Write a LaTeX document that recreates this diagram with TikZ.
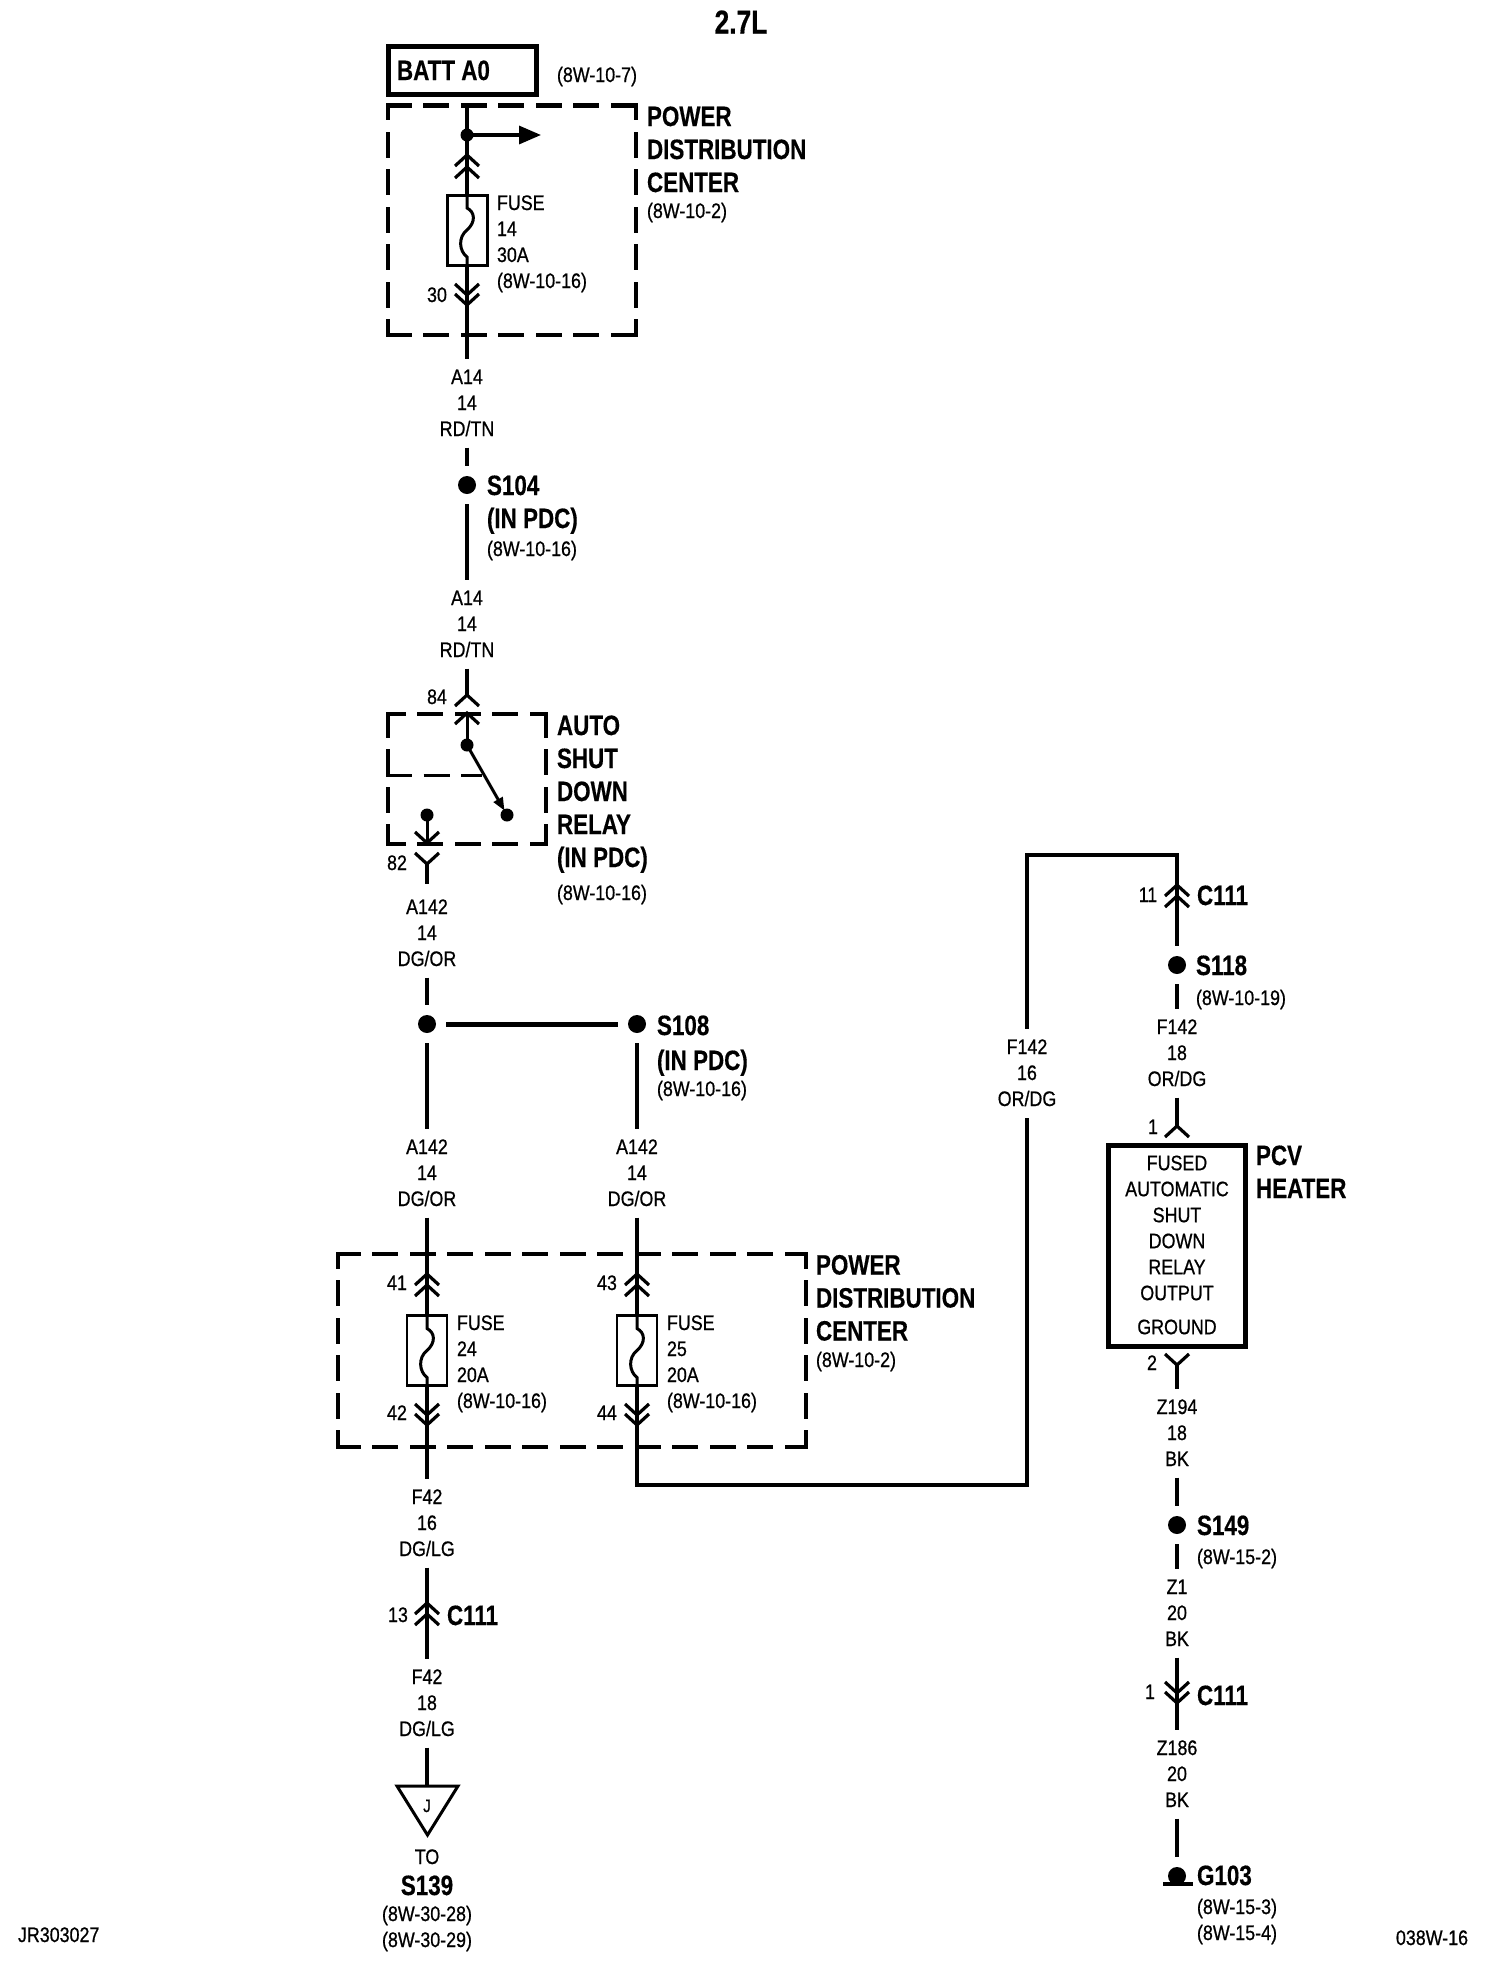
\documentclass[tikz,border=0pt]{standalone}
\usepackage{fontspec}
\usetikzlibrary{arrows.meta}
\newfontfamily\smf[FakeStretch=0.85,FakeBold=0.7]{Liberation Sans}
\newfontfamily\bgf[FakeStretch=0.8,FakeBold=0.4]{Liberation Sans Bold}
\newcommand\fS{\fontsize{21}{26}\selectfont\smf}
\newcommand\fB{\fontsize{28}{33}\selectfont\bgf}
\newcommand\sS{\rule{0pt}{20pt}\rule[-6pt]{0pt}{6pt}}
\newcommand\bS{\rule{0pt}{26.5pt}\rule[-6.5pt]{0pt}{6.5pt}}
\newcommand\wl[6]{\node[wlab] (#1) at (#2,#3+26) {\sS #4\\#5\\#6\sS};}
\newcommand\dashedbox[6]{%
  \draw[dbox,dash phase=#5] (#1,#2) -- (#3,#2);
  \draw[dbox,dash phase=#5] (#1,#4) -- (#3,#4);
  \draw[dbox,dash phase=#6] (#1,#2) -- (#1,#4);
  \draw[dbox,dash phase=#6] (#3,#2) -- (#3,#4);}
\tikzset{
  wire/.style={line width=3.3pt,line cap=butt},
  dbox/.style={line width=4.5pt,dash pattern=on 21.5pt off 16pt,line cap=rect},
  chev/.style={line width=3.2pt,line join=miter},
  wlab/.style={font=\fS,inner sep=0pt,outer sep=0pt,align=center,minimum height=89pt},
  sc/.style={font=\fS,inner sep=0pt,outer sep=0pt,text height=20pt,text depth=6pt},
  sw/.style={sc,anchor=west,xshift=-1pt},
  bw/.style={font=\fB,inner sep=0pt,outer sep=0pt,text height=26.5pt,text depth=6.5pt,anchor=west,xshift=-1pt},
  sblock/.style={font=\fS,inner sep=0pt,outer sep=0pt,align=left,anchor=north west,xshift=-1pt},
  bblock/.style={font=\fB,inner sep=0pt,outer sep=0pt,align=left,anchor=north west,xshift=-1pt},
  bigdot/.style={circle,fill=black,minimum size=18pt,inner sep=0pt,outer sep=10pt},
  smdot/.style={circle,fill=black,minimum size=13pt,inner sep=0pt,outer sep=0pt},
  fusebox/.style={draw,line width=2.8pt,minimum width=40pt,minimum height=70pt,inner sep=0pt},
  thickbox/.style={draw,line width=5pt,inner sep=0pt},
  pics/chup/.style={code={\draw[chev] (-12,11) -- (0,0) -- (12,11);}},
  pics/chdn/.style={code={\draw[chev] (-12,-11) -- (0,0) -- (12,-11);}},
  pics/squig/.style={code={\draw[wire,line width=3pt] (0,0) -- (0,13) .. controls (8,17) and (9,27) .. (0,35) .. controls (-9,42) and (-8,56) .. (0,62) -- (0,71);}},
}
\begin{document}
\begin{tikzpicture}[x=1pt,y=-1pt]
\useasboundingbox (0,0) rectangle (1504,1968);
% ---------- headings and corners
\node[bw,font=\fontsize{33}{36}\selectfont\bgf,anchor=center,xshift=1pt] (title) at (741,23.5) {2.7L};
\node[sw] (jr) at (19,1935) {JR303027};
\node[sc] (ref) at (1432,1938) {038W-16};
% ---------- BATT
\node[thickbox,minimum width=148pt,minimum height=48pt] (batt) at (462,70) {};
\node[bw] (batttext) at (398,70) {BATT A0};
\node[sw] (battref) at (558,75) {(8W-10-7)};
% ---------- top PDC
\dashedbox{388}{105.5}{636}{335}{0}{9}
\node[bblock] (pdcA) at (648,99.5) {\bS POWER\\DISTRIBUTION\\CENTER\bS};
\node[sw] (pdcAref) at (648,211) {(8W-10-2)};
\coordinate (topA) at (467,105.5);
\node[smdot] (junA) at (467,135) {};
\coordinate (arrA) at (541,135);
\node[fusebox] (fuse14) at (467.5,230.5) {};
\node[sblock] (fuse14t) at (498,190) {\sS FUSE\\14\\30A\\(8W-10-16)\sS};
\node[sc] (p30) at (437,295) {30};
\wl{a14a}{467}{377}{A14}{14}{RD/TN}
\draw[wire] (topA) -- (junA.center) -- (467,195);
\draw[wire,-{Triangle[length=22pt,width=18pt]}] (junA.center) -- (arrA);
\pic at (467,155) {chup};
\pic at (467,167) {chup};
\pic at (467,195) {squig};
\draw[wire] (467,266) -- (a14a.north);
\pic at (467,295) {chdn};
\pic at (467,305) {chdn};
% ---------- S104
\node[bigdot] (s104) at (467,485) {};
\node[bw] (s104t) at (488,485) {S104};
\node[bw] (s104p) at (488,518) {(IN PDC)};
\node[sw] (s104r) at (488,549) {(8W-10-16)};
\wl{a14b}{467}{598}{A14}{14}{RD/TN}
\draw[wire] (a14a.south) -- (s104.north);
\draw[wire] (s104.south) -- (a14b.north);
% ---------- relay
\dashedbox{388}{714}{546}{844}{6}{0}
\draw[line width=3pt,dash pattern=on 26pt off 11.5pt] (386,775) -- (482,775);
\coordinate (c84) at (467,695);
\coordinate (c84b) at (467,713);
\draw[wire] (a14b.south) -- (c84);
\pic at (c84) {chup};
\pic at (c84b) {chup};
\node[sc] (p84) at (437,697) {84};
\node[smdot] (relA) at (467,745) {};
\node[smdot] (relB) at (507,815) {};
\node[smdot] (relC) at (427,815) {};
\draw[wire,line width=3pt] (c84b) -- (relA.center);
\draw[wire,line width=3pt,shorten >=5pt,-{Triangle[length=13pt,width=10pt]}] (relA.center) -- (relB.center);
\coordinate (c82a) at (427,843);
\coordinate (c82b) at (427,864);
\draw[wire,line width=3pt] (relC.center) -- (c82a);
\pic at (c82a) {chdn};
\pic at (c82b) {chdn};
\node[sc] (p82) at (397,863) {82};
\node[bblock] (relt) at (558,708.5) {\bS AUTO\\SHUT\\DOWN\\RELAY\\(IN PDC)\bS};
\node[sw] (relr) at (558,893) {(8W-10-16)};
\wl{a142a}{427}{907}{A142}{14}{DG/OR}
\draw[wire,shorten >=5pt] (c82b) -- (a142a.north);
% ---------- S108
\node[bigdot] (j108) at (427,1024) {};
\node[bigdot] (s108) at (637,1024) {};
\draw[wire,line width=5pt] (j108.east) -- (s108.west);
\node[bw] (s108t) at (658,1025) {S108};
\node[bw] (s108p) at (658,1060) {(IN PDC)};
\node[sw] (s108r) at (658,1089) {(8W-10-16)};
\wl{a142b}{427}{1147}{A142}{14}{DG/OR}
\wl{a142c}{637}{1147}{A142}{14}{DG/OR}
\draw[wire] (a142a.south) -- (j108.north);
\draw[wire] (j108.south) -- (a142b.north);
\draw[wire] (s108.south) -- (a142c.north);
% ---------- lower PDC
\dashedbox{338}{1254}{806}{1447}{1}{9}
\node[bblock] (pdcB) at (817,1248) {\bS POWER\\DISTRIBUTION\\CENTER\bS};
\node[sw] (pdcBr) at (817,1360) {(8W-10-2)};
\node[fusebox] (fuse24) at (427,1350.5) {};
\node[fusebox] (fuse25) at (637,1350.5) {};
\node[sblock] (fuse24t) at (458,1310) {\sS FUSE\\24\\20A\\(8W-10-16)\sS};
\node[sblock] (fuse25t) at (668,1310) {\sS FUSE\\25\\20A\\(8W-10-16)\sS};
\node[sc] (p41) at (397,1283) {41};
\node[sc] (p42) at (397,1413) {42};
\node[sc] (p43) at (607,1283) {43};
\node[sc] (p44) at (607,1413) {44};
\draw[wire] (a142b.south) -- (fuse24.north);
\draw[wire] (a142c.south) -- (fuse25.north);
\pic at (427,1315.5) {squig};
\pic at (637,1315.5) {squig};
\pic at (427,1274) {chup};
\pic at (427,1285) {chup};
\pic at (637,1274) {chup};
\pic at (637,1285) {chup};
\pic at (427,1415) {chdn};
\pic at (427,1425) {chdn};
\pic at (637,1415) {chdn};
\pic at (637,1425) {chdn};
% ---------- F42
\wl{f42a}{427}{1497}{F42}{16}{DG/LG}
\draw[wire] (fuse24.south) -- (f42a.north);
\wl{f42b}{427}{1677}{F42}{18}{DG/LG}
\draw[wire] (f42a.south) -- (f42b.north);
\pic at (427,1603) {chup};
\pic at (427,1614) {chup};
\node[sc] (p13) at (398,1615) {13};
\node[bw] (c111a) at (448,1615) {C111};
\coordinate (triL) at (397,1786);
\coordinate (triR) at (458,1786);
\coordinate (triB) at (427.5,1835);
\coordinate (triT) at (427,1786);
\draw[wire] (f42b.south) -- (triT);
\draw[line width=3pt,line join=miter] (triL) -- (triR) -- (triB) -- cycle;
\node[sc,font=\fontsize{18}{20}\selectfont\smf] (jmark) at (427,1805) {J};
\node[sc] (to) at (427,1857) {TO};
\node[bw,anchor=center,xshift=1pt] (s139) at (427,1885) {S139};
\node[sc] (s139a) at (427,1914) {(8W-30-28)};
\node[sc] (s139b) at (427,1940) {(8W-30-29)};
% ---------- F142 loop
\coordinate (loopL) at (1027,1502);
\coordinate (loopTL) at (1027,855);
\coordinate (loopTR) at (1177,855);
\wl{f142a}{1027}{1047}{F142}{16}{OR/DG}
\draw[wire,line join=miter] (fuse25.south) -- (637,1485) -- (1027,1485) -- (f142a.south);
\node[bigdot] (s118) at (1177,965) {};
\draw[wire,line join=miter] (f142a.north) -- (loopTL) -- (loopTR) -- (s118.north);
\pic at (1177,885) {chup};
\pic at (1177,896) {chup};
\node[sc] (p11) at (1148,895) {11};
\node[bw] (c111b) at (1198,895) {C111};
\node[bw] (s118t) at (1197,965) {S118};
\node[sw] (s118r) at (1197,998) {(8W-10-19)};
\wl{f142b}{1177}{1027}{F142}{18}{OR/DG}
\draw[wire] (s118.south) -- (f142b.north);
\coordinate (c1a) at (1177,1126);
\draw[wire] (f142b.south) -- (c1a);
\pic at (c1a) {chup};
\node[sc] (p1a) at (1153,1127) {1};
% ---------- PCV heater
\node[thickbox,minimum width=137pt,minimum height=201pt] (pcv) at (1176.5,1245.5) {};
\node[font=\fS,inner sep=0pt,align=center,anchor=north] (pcvt) at (1177,1150) {\sS FUSED\\AUTOMATIC\\SHUT\\DOWN\\RELAY\\OUTPUT\\[8pt]GROUND\sS};
\node[bblock] (pcvl) at (1257,1138.5) {\bS PCV\\HEATER\bS};
\coordinate (c2b) at (1177,1365);
\node[sc] (p2) at (1152,1363) {2};
\pic at (c2b) {chdn};
\wl{z194}{1177}{1407}{Z194}{18}{BK}
\draw[wire] (c2b) -- (z194.north);
% ---------- S149
\node[bigdot] (s149) at (1177,1525) {};
\node[bw] (s149t) at (1198,1525) {S149};
\node[sw] (s149r) at (1198,1557) {(8W-15-2)};
\wl{z1}{1177}{1587}{Z1}{20}{BK}
\draw[wire] (z194.south) -- (s149.north);
\draw[wire] (s149.south) -- (z1.north);
\wl{z186}{1177}{1748}{Z186}{20}{BK}
\draw[wire] (z1.south) -- (z186.north);
\pic at (1177,1693) {chdn};
\pic at (1177,1703) {chdn};
\node[sc] (p1b) at (1150,1692) {1};
\node[bw] (c111c) at (1198,1695) {C111};
% ---------- G103
\node[bigdot] (g103) at (1177,1876) {};
\draw[wire] (z186.south) -- (g103.north);
\coordinate (gndL) at (1163,1884);
\coordinate (gndR) at (1193,1884);
\draw[line width=4pt] (gndL) -- (gndR);
\node[bw] (g103t) at (1198,1875) {G103};
\node[sw] (g103a) at (1198,1907) {(8W-15-3)};
\node[sw] (g103b) at (1198,1933) {(8W-15-4)};
\end{tikzpicture}
\end{document}
